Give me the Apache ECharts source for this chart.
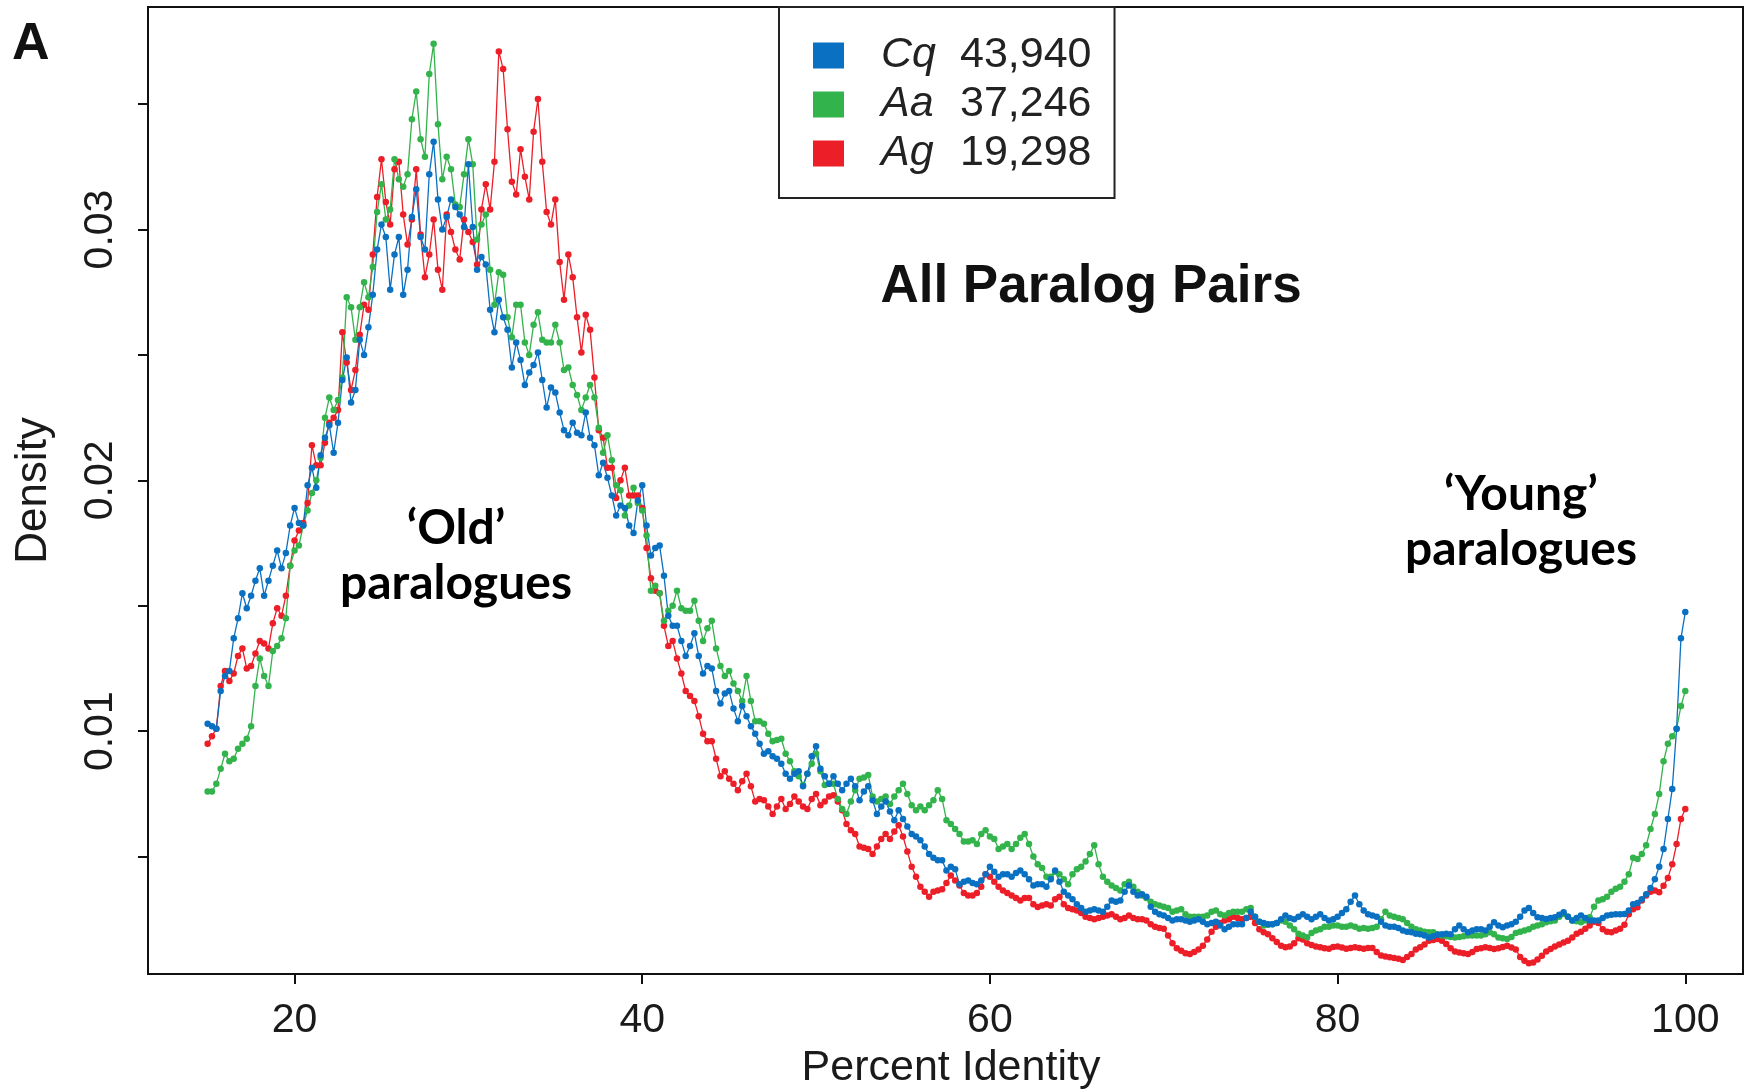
<!DOCTYPE html>
<html>
<head>
<meta charset="utf-8">
<script src="https://cdn.jsdelivr.net/npm/echarts@6/dist/echarts.min.js"></script>
<style>
  html, body { margin: 0; padding: 0; background: #ffffff; }
  #chart { width: 1750px; height: 1089px; }
</style>
</head>
<body>
<div id="chart"></div>
<script>
// Percent-identity grid shared by the three curves: 15% .. 100% in 0.25% steps
const pctStart = 15;
const pctStep = 0.25;

// Paralog-pair density per species, in units of 0.001 (one row = 5% of identity)
const cqDensity = [
  10.3,10.2,10.1,11.6,12.2,12.4,13.7,14.5,15.5,14.9,15.4,16.0,16.5,15.4,16.0,16.6,17.2,16.5,17.1,18.2,
  18.9,18.3,18.2,19.8,20.5,19.7,21.0,21.7,22.2,21.1,22.3,24.0,24.9,23.1,23.6,25.6,25.0,26.1,27.4,29.2,
  30.2,29.7,27.6,29.0,29.7,27.4,28.4,30.5,31.6,29.7,29.2,32.2,33.5,31.2,30.0,30.5,31.2,30.9,30.6,30.1,
  32.6,30.1,28.4,28.9,28.6,26.8,25.9,27.2,26.5,26.0,24.5,25.5,24.8,23.8,24.3,24.6,25.1,24.0,22.9,23.7,
  23.5,22.7,22.0,21.8,22.3,21.9,21.8,22.7,21.7,21.4,20.2,20.7,20.1,19.4,18.6,19.0,18.9,18.2,17.9,19.2,
  19.8,18.2,17.0,17.3,17.4,16.2,14.6,14.2,14.2,13.6,13.0,13.4,13.9,13.0,12.3,12.6,12.5,11.6,11.1,11.5,
  11.6,10.9,10.4,11.0,10.6,10.2,9.9,9.5,9.1,9.2,9.0,8.9,8.7,8.3,8.1,8.3,8.4,7.8,8.3,9.0,
  9.4,8.5,8.2,7.9,8.2,7.9,7.65,7.9,8.1,7.8,7.25,7.6,7.8,7.25,6.7,7.0,7.2,6.8,6.45,6.85,
  6.5,6.2,5.9,5.8,5.65,5.4,5.1,4.95,4.85,4.85,4.45,4.6,4.5,3.9,4.0,4.05,3.95,3.9,4.05,4.3,
  4.6,4.4,4.2,4.3,4.3,4.2,4.35,4.45,4.3,4.1,3.85,3.9,3.9,3.8,4.1,4.45,4.0,3.6,3.45,3.3,
  3.1,2.95,2.8,2.85,2.9,2.85,2.8,3.0,3.25,3.2,3.25,3.6,3.85,3.6,3.45,3.5,3.4,3.0,2.8,2.7,
  2.65,2.55,2.45,2.5,2.5,2.45,2.4,2.45,2.5,2.4,2.3,2.35,2.4,2.25,2.1,2.2,2.3,2.3,2.3,2.55,
  2.8,2.6,2.4,2.35,2.3,2.3,2.35,2.5,2.65,2.55,2.5,2.6,2.7,2.6,2.5,2.6,2.7,2.55,2.45,2.5,
  2.6,2.75,2.9,3.2,3.45,3.1,2.85,2.7,2.65,2.6,2.4,2.25,2.2,2.2,2.15,2.05,2.0,1.98,1.92,1.9,
  1.85,1.78,1.82,1.88,1.9,1.92,1.9,2.1,2.25,2.1,1.98,2.05,2.1,2.1,2.05,2.2,2.38,2.25,2.18,2.25,
  2.3,2.4,2.6,2.85,2.95,2.75,2.58,2.55,2.51,2.55,2.58,2.68,2.78,2.6,2.45,2.55,2.65,2.55,2.45,2.45,
  2.45,2.55,2.65,2.68,2.7,2.7,2.71,2.85,3.1,3.15,3.3,3.5,3.75,4.1,4.6,5.3,6.5,7.7,10.1,13.7,
  14.75
];

const aaDensity = [
  7.6,7.6,7.9,8.5,9.1,8.8,8.9,9.3,9.5,9.7,10.2,11.8,12.9,12.2,11.8,13.2,13.4,13.7,14.5,16.6,
  17.2,17.4,18.2,18.8,19.5,20.0,20.9,22.5,23.3,22.8,23.2,24.1,27.3,26.9,25.6,26.9,27.9,27.3,28.5,30.7,
  31.8,30.4,30.8,32.8,32.0,31.7,32.2,34.4,35.5,33.6,32.9,36.2,37.4,34.2,32.0,32.9,32.4,31.0,30.9,32.2,
  33.6,32.6,29.6,30.2,30.6,28.4,27.0,28.3,28.2,26.5,25.7,27.0,27.0,25.5,25.0,26.2,26.7,25.6,25.5,25.5,
  26.2,25.5,24.4,24.5,23.8,23.4,22.8,23.3,23.8,23.3,22.1,21.1,21.8,20.8,19.8,19.6,18.6,19.0,19.7,19.1,
  18.8,17.8,15.6,15.8,15.5,14.4,14.8,15.0,15.6,14.9,14.8,14.8,15.2,14.4,13.6,14.1,14.4,13.3,12.6,12.2,
  12.4,11.9,11.6,11.2,12.2,11.2,10.4,10.4,10.3,9.9,9.6,9.65,9.7,9.1,8.8,8.4,8.2,7.85,8.3,8.7,
  9.1,8.4,7.85,7.9,7.9,7.3,6.9,6.7,7.2,7.65,8.1,8.15,8.25,7.4,7.2,7.3,7.4,7.1,7.4,7.65,
  7.9,7.5,7.05,6.85,7.0,6.85,7.05,7.25,7.65,7.3,6.45,6.3,6.1,5.9,5.6,5.6,5.65,5.5,5.9,6.05,
  5.8,5.7,5.3,5.4,5.5,5.3,5.5,5.75,5.9,5.5,5.0,4.7,4.55,4.2,4.2,4.4,4.3,4.1,3.9,4.3,
  4.5,4.6,4.8,5.1,5.45,4.7,4.2,4.0,3.85,3.75,3.65,3.9,4.0,3.8,3.6,3.45,3.35,3.2,3.1,3.05,
  3.0,2.95,2.8,2.85,2.9,2.7,2.6,2.6,2.6,2.6,2.65,2.8,2.85,2.7,2.65,2.75,2.8,2.8,2.8,2.9,
  2.95,2.6,2.4,2.25,2.28,2.3,2.35,2.45,2.4,2.25,2.1,1.92,1.85,1.79,1.95,2.05,2.1,2.2,2.2,2.25,
  2.25,2.2,2.2,2.25,2.2,2.12,2.15,2.12,2.15,2.2,2.5,2.8,2.65,2.6,2.55,2.5,2.35,2.2,2.1,2.05,
  2.0,1.98,1.98,1.9,1.85,1.82,1.8,1.78,1.8,1.82,1.85,1.85,1.85,1.85,1.9,1.98,1.9,1.78,1.75,1.72,
  1.8,1.95,2.0,2.05,2.1,2.2,2.25,2.3,2.38,2.42,2.45,2.6,2.71,2.6,2.45,2.42,2.38,2.45,2.58,3.0,
  3.25,3.3,3.4,3.6,3.72,3.8,4.0,4.3,4.95,4.9,5.1,5.45,6.1,6.7,7.5,8.8,9.5,9.8,10.1,11.0,
  11.6
];

const agDensity = [
  9.5,9.8,10.1,11.8,12.4,12.0,12.3,13.0,13.3,12.5,12.6,13.1,13.6,13.5,13.3,14.3,14.9,14.6,15.4,16.6,
  17.6,18.0,18.3,19.1,21.4,20.6,20.6,21.5,22.3,22.5,22.8,25.9,24.7,23.6,24.4,25.8,27.0,26.8,29.0,31.3,
  32.8,31.1,30.2,32.4,32.7,30.6,29.4,30.4,32.4,29.8,28.1,29.0,30.4,28.4,27.6,30.6,29.9,29.2,28.8,30.4,
  29.9,29.5,28.6,30.8,31.8,30.8,32.7,37.1,36.4,34.0,31.9,31.4,33.2,32.1,31.2,33.9,35.2,32.7,30.7,30.2,
  31.2,28.7,27.2,29.0,28.1,26.5,25.1,26.6,26.0,24.1,22.0,21.7,20.5,20.5,19.3,20.0,20.5,19.4,19.4,19.4,
  18.9,17.3,16.1,15.6,15.5,14.2,13.4,13.6,12.9,12.3,11.6,11.4,11.2,10.6,9.9,9.6,9.6,8.9,8.2,8.4,
  8.1,7.9,7.65,8.0,8.3,7.8,7.2,7.3,7.25,7.0,6.7,7.0,7.3,6.9,7.1,7.4,7.2,7.0,6.9,7.3,
  7.5,7.05,7.2,7.4,7.45,7.2,6.85,6.3,6.05,5.9,5.4,5.35,5.3,5.1,5.4,5.7,5.9,5.7,6.0,6.25,
  5.8,5.2,4.6,4.2,3.8,3.6,3.4,3.6,3.65,3.7,3.95,4.25,4.05,3.85,3.55,3.45,3.45,3.55,3.8,4.3,
  4.2,4.0,3.8,3.65,3.55,3.45,3.35,3.25,3.35,3.35,3.1,2.99,3.05,3.1,3.05,3.3,3.4,3.1,2.95,2.9,
  2.85,2.75,2.6,2.55,2.5,2.55,2.6,2.65,2.7,2.6,2.5,2.55,2.65,2.55,2.5,2.5,2.45,2.3,2.2,2.15,
  2.12,1.85,1.55,1.35,1.25,1.15,1.12,1.2,1.3,1.45,1.7,2.0,2.2,2.35,2.45,2.5,2.6,2.55,2.5,2.55,
  2.6,2.35,2.1,1.98,1.9,1.75,1.6,1.45,1.39,1.42,1.55,1.75,1.7,1.55,1.48,1.42,1.39,1.35,1.33,1.4,
  1.42,1.38,1.33,1.36,1.39,1.36,1.33,1.36,1.36,1.2,1.06,1.02,0.99,0.96,0.93,0.88,1.0,1.12,1.3,1.39,
  1.5,1.65,1.68,1.72,1.65,1.52,1.35,1.22,1.18,1.15,1.12,1.2,1.32,1.35,1.39,1.36,1.32,1.35,1.4,1.45,
  1.38,1.3,1.0,0.85,0.75,0.78,0.9,1.05,1.22,1.32,1.42,1.5,1.58,1.65,1.78,1.92,2.0,2.12,2.25,2.4,
  2.35,2.1,2.0,1.98,2.05,2.12,2.28,2.7,2.9,2.98,3.25,3.45,3.6,3.65,3.58,3.84,4.15,4.7,5.5,6.5,
  6.9
];

const speciesNames = ['Cq', 'Aa', 'Ag'];
const pairCounts = ['43,940', '37,246', '19,298'];
const speciesColors = ['#0a70c2', '#33b34b', '#ec1e27'];

const xTickValues = [20, 40, 60, 80, 100];
const yTickValues = [0.005, 0.01, 0.015, 0.02, 0.025, 0.03, 0.035];
const yLabelValues = [0.01, 0.02, 0.03];

const FONT = '"Liberation Sans", Arial, Helvetica, sans-serif';
const NOTE_FONT = 'Lato, "Open Sans", sans-serif';

function toPoints(perMille) {
  return perMille.map((v, i) => [pctStart + i * pctStep, v / 1000]);
}

const densities = { Cq: cqDensity, Aa: aaDensity, Ag: agDensity };
const countOf = {};
speciesNames.forEach((n, i) => { countOf[n] = pairCounts[i]; });

// Ag drawn first, Cq last so the blue curve sits on top
const drawOrder = [2, 1, 0];
const series = drawOrder.map(i => ({
  name: speciesNames[i],
  type: 'line',
  data: toPoints(densities[speciesNames[i]]),
  symbol: 'circle',
  symbolSize: 6.5,
  showSymbol: true,
  color: speciesColors[i],
  itemStyle: { color: speciesColors[i] },
  lineStyle: { color: speciesColors[i], width: 1.3 },
  emphasis: { disabled: true },
  animation: false,
  z: 3
}));

const chart = echarts.init(document.getElementById('chart'), null, { renderer: 'canvas' });

chart.setOption({
  backgroundColor: '#ffffff',
  animation: false,
  grid: {
    left: 148, right: 7, top: 7, bottom: 115,
    containLabel: false,
    outerBoundsMode: 'none',
    show: true, borderColor: '#111', borderWidth: 2, backgroundColor: 'transparent'
  },
  xAxis: {
    type: 'value',
    min: 11.57,
    max: 103.32,
    splitLine: { show: false },
    axisLine: { show: false },
    axisTick: {
      show: true, inside: false, length: 10, customValues: xTickValues,
      lineStyle: { color: '#111', width: 2 }
    },
    axisLabel: {
      customValues: xTickValues, margin: 26,
      fontFamily: FONT, fontSize: 41, color: '#1a1a1a'
    },
    name: 'Percent Identity',
    nameLocation: 'middle',
    nameGap: 73,
    nameTextStyle: { fontFamily: FONT, fontSize: 43, color: '#1a1a1a', padding: [0, 0, 0, 11] }
  },
  yAxis: {
    type: 'value',
    min: 0.00032,
    max: 0.03887,
    splitLine: { show: false },
    axisLine: { show: false },
    axisTick: {
      show: true, inside: false, length: 10, customValues: yTickValues,
      lineStyle: { color: '#111', width: 2 }
    },
    axisLabel: {
      customValues: yLabelValues, rotate: 90, margin: 27,
      fontFamily: FONT, fontSize: 41, color: '#1a1a1a',
      formatter: v => v.toFixed(2)
    },
    name: 'Density',
    nameLocation: 'middle',
    nameRotate: 90,
    nameGap: 92,
    nameTextStyle: { fontFamily: FONT, fontSize: 44, color: '#1a1a1a' }
  },
  legend: {
    data: speciesNames,
    orient: 'vertical',
    left: 779,
    top: 7,
    padding: [27, 23, 23, 34],
    itemGap: 6,
    itemWidth: 31,
    itemHeight: 26,
    icon: 'rect',
    selectedMode: false,
    backgroundColor: '#ffffff',
    borderColor: '#222',
    borderWidth: 2,
    formatter: name => '{sp|' + name + '}{n|' + countOf[name] + '}',
    textStyle: {
      padding: [0, 0, 0, 32],
      rich: {
        sp: { fontFamily: FONT, fontStyle: 'italic', fontSize: 43, color: '#222', width: 79, lineHeight: 48 },
        n: { fontFamily: FONT, fontSize: 43, color: '#222', lineHeight: 48 }
      }
    }
  },
  graphic: [
    {
      type: 'text', x: 12, y: 45, z: 10,
      style: { text: 'A', font: 'bold 52px ' + FONT, fill: '#111', align: 'left', verticalAlign: 'middle' }
    },
    {
      type: 'text', x: 1091, y: 287, z: 10,
      style: { text: 'All Paralog Pairs', font: 'bold 53px ' + FONT, fill: '#111', align: 'center', verticalAlign: 'middle' }
    },
    {
      type: 'text', x: 456, y: 556, z: 10,
      style: { text: '\u2018Old\u2019\nparalogues', font: 'bold 48px ' + NOTE_FONT, lineHeight: 55, fill: '#000', align: 'center', verticalAlign: 'middle' }
    },
    {
      type: 'text', x: 1521, y: 522, z: 10,
      style: { text: '\u2018Young\u2019\nparalogues', font: 'bold 48px ' + NOTE_FONT, lineHeight: 55, fill: '#000', align: 'center', verticalAlign: 'middle' }
    }
  ],
  series: series
});
</script>
</body>
</html>
